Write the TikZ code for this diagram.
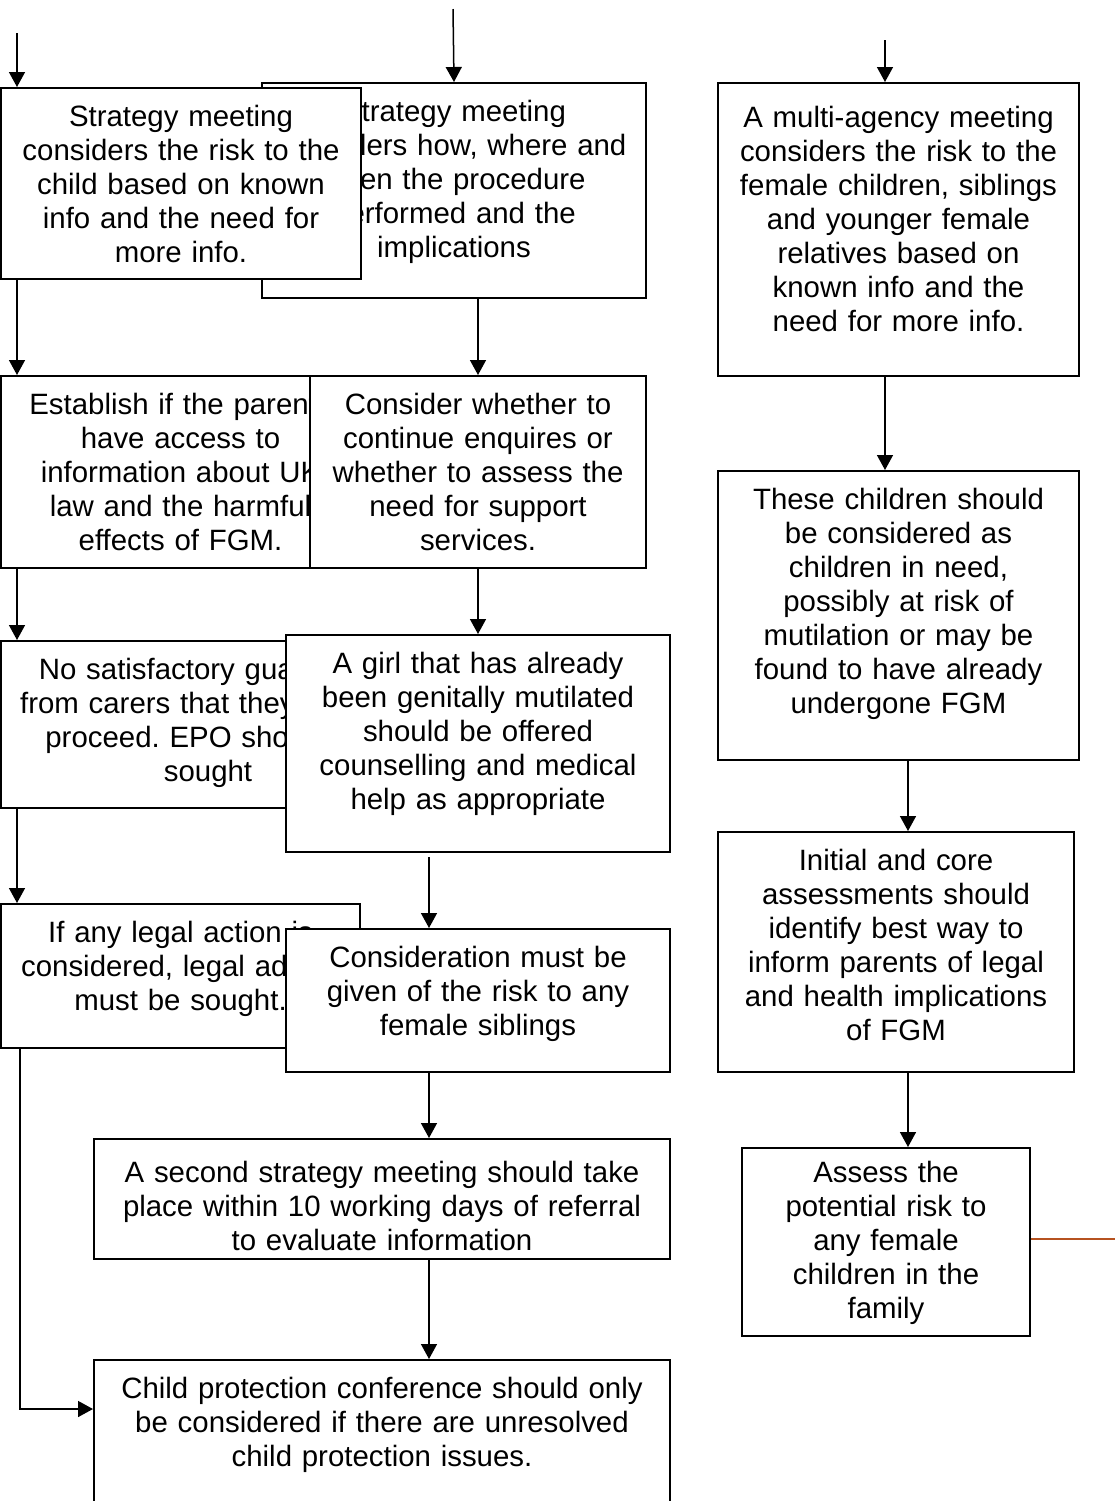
\documentclass[tikz,border=0pt]{standalone}
\usepackage{fontspec}
\setmainfont{Liberation Sans}
\usetikzlibrary{arrows.meta}
\definecolor{linkbrown}{RGB}{182,82,32}
\frenchspacing

\begin{document}
\begin{tikzpicture}[x=0.5pt,y=-0.5pt,
	box/.style={draw, fill=white, line width=1pt, align=center, anchor=north west,
		inner sep=0pt, text height=19pt, font=\fontsize{14.7}{17}\selectfont},
	arr/.style={line width=0.75pt, -{Triangle[width=8pt,length=7.5pt]}}]
	\useasboundingbox (0,0) rectangle (1115,1501);

	% free ends and columns of the arrows
	\coordinate (ltop) at (17,33);
	\coordinate (mtop) at (453,9);
	\coordinate (rtop) at (885,40);
	\coordinate (cx) at (429,0);
	\coordinate (rx) at (908,0);
	\coordinate (edge) at (1115,1239);

	% middle column (drawn first where the left box lies on top)
	\node (m1)[box, text width=192pt, text depth=88.5pt] at (261,82)
		{Strategy meeting\\considers how, where and\\when the procedure\\performed and the\\implications};

	% left column
	\node (l1)[box, text width=180pt, text depth=76.5pt] at (0,87)
		{Strategy meeting\\considers the risk to the\\child based on known\\info and the need for\\more info.};
	\node (l2)[box, text width=179.5pt, text depth=77pt] at (0,375)
		{Establish if the parents\\have access to\\information about UK\\law and the harmful\\effects of FGM.};
	\node (l3)[box, text width=207pt, text depth=64.5pt] at (0,640)
		{No satisfactory guarantee\\from carers that they will not\\proceed. EPO should be\\sought};
	\node (l4)[box, text width=179.5pt, text depth=53pt] at (0,903)
		{If any legal action is\\considered, legal advice\\must be sought.};

	\node (m2)[box, text width=168pt, text depth=77pt] at (309,375)
		{Consider whether to\\continue enquires or\\whether to assess the\\need for support\\services.};
	\node (m3)[box, text width=192pt, text depth=89.5pt] at (285,634)
		{A girl that has already\\been genitally mutilated\\should be offered\\counselling and medical\\help as appropriate};
	\node (m4)[box, text width=192pt, text depth=52.5pt] at (285,928)
		{Consideration must be\\given of the risk to any\\female siblings};
	\node (m5)[box, text width=288pt, text height=21.5pt, text depth=38.5pt] at (93,1138)
		{A second strategy meeting should take\\place within 10 working days of referral\\to evaluate information};
	\node (m6)[box, text width=288pt, text depth=66pt] at (93,1359)
		{Child protection conference should only\\be considered if there are unresolved\\child protection issues.};

	% right column
	\node (r1)[box, text width=180.5pt, text height=22pt, text depth=124.5pt] at (717,82)
		{A multi-agency meeting\\considers the risk to the\\female children, siblings\\and younger female\\relatives based on\\known info and the\\need for more info.};
	\node (r2)[box, text width=180.5pt, text depth=125.5pt] at (717,470)
		{These children should\\be considered as\\children in need,\\possibly at risk of\\mutilation or may be\\found to have already\\undergone FGM};
	\node (r3)[box, text width=178pt, text depth=101pt] at (717,831)
		{Initial and core\\assessments should\\identify best way to\\inform parents of legal\\and health implications\\of FGM};
	\node (r4)[box, text width=144pt, text height=17pt, text depth=77pt] at (741,1147)
		{Assess the\\potential risk to\\any female\\children in the\\family};

	% arrows
	\draw[arr] (ltop) -- (ltop |- l1.north);
	\draw[arr] (l1.south -| ltop) -- (l2.north -| ltop);
	\draw[arr] (l2.south -| ltop) -- (l3.north -| ltop);
	\draw[arr] (l3.south -| ltop) -- (l4.north -| ltop);
	\draw[arr] ([xshift=10pt]l4.south west) |- ([yshift=-25pt]m6.north west);

	\draw[arr] (mtop) -- (m1.north);
	\draw[arr] (m1.south -| m2.north) -- (m2.north);
	\draw[arr] (m2.south) -- (m3.north);
	\draw[arr] ([yshift=-2pt]m3.south -| cx) -- (m4.north -| cx);
	\draw[arr] (m4.south -| cx) -- (m5.north -| cx);
	\draw[arr] (m5.south -| cx) -- (m6.north -| cx);

	\draw[arr] (rtop) -- (rtop |- r1.north);
	\draw[arr] (r1.south -| rtop) -- (r2.north -| rtop);
	\draw[arr] (r2.south -| rx) -- (r3.north -| rx);
	\draw[arr] (r3.south -| rx) -- (r4.north -| rx);
	\draw[linkbrown, line width=1pt] (r4.east |- edge) -- (edge);
\end{tikzpicture}
\end{document}
